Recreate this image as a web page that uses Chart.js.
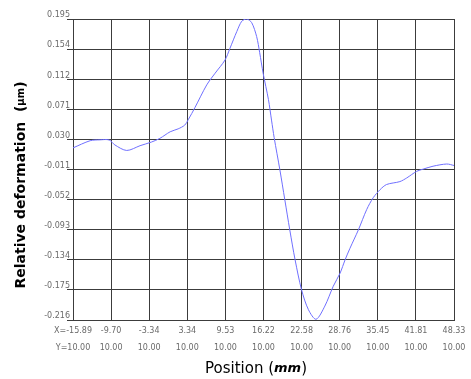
<!DOCTYPE html>
<html>
<head>
<meta charset="utf-8">
<script src="https://cdn.jsdelivr.net/npm/chart.js@4.4.0/dist/chart.umd.min.js"></script>
<style>
  html, body { margin: 0; padding: 0; background: #fff; }
  #wrap { width: 471px; height: 379px; }
</style>
</head>
<body>
<div id="wrap"><canvas id="c"></canvas></div>
<script>
// -- data --
// x tick labels (position in mm) and the Y row under them
const xTickLabels = ['-15.89', '-9.70', '-3.34', '3.34', '9.53', '16.22', '22.58', '28.76', '35.45', '41.81', '48.33']
const yRowLabels = ['10.00', '10.00', '10.00', '10.00', '10.00', '10.00', '10.00', '10.00', '10.00', '10.00', '10.00']
const yTickValues = [0.195, 0.154, 0.112, 0.071, 0.030, -0.011, -0.052, -0.093, -0.134, -0.175, -0.216]

// curve: position as grid column index (0 = first x label, 10 = last), deformation in µm
const gridPos = [0, 0.45, 0.71, 0.95, 1.10, 1.41, 1.76, 2.06, 2.28, 2.55, 2.76, 2.93, 3.03, 3.20, 3.51, 3.73, 3.99, 4.12, 4.30, 4.43, 4.56, 4.69, 4.82, 4.90, 4.99, 5.13, 5.21, 5.28, 5.43, 5.56, 5.69, 5.83, 6.00, 6.18, 6.38, 6.61, 6.83, 7.01, 7.14, 7.27, 7.49, 7.71, 7.88, 8.06, 8.23, 8.58, 8.76, 9.02, 9.19, 9.45, 9.81, 10]
const deformation = [0.019, 0.0288, 0.030, 0.0298, 0.023, 0.0155, 0.022, 0.027, 0.032, 0.041, 0.045, 0.050, 0.058, 0.074, 0.105, 0.121, 0.139, 0.155, 0.178, 0.192, 0.195, 0.190, 0.171, 0.149, 0.121, 0.085, 0.057, 0.033, -0.011, -0.052, -0.093, -0.134, -0.175, -0.202, -0.215, -0.197, -0.170, -0.152, -0.134, -0.118, -0.093, -0.065, -0.049, -0.038, -0.031, -0.027, -0.022, -0.013, -0.010, -0.006, -0.003, -0.005]

const points = gridPos.map((x, i) => ({x: x, y: deformation[i]}))

const gridColor = '#3c3c3c'
const tickColor = '#6a6a6a'

// axis titles with mixed fonts (the unit is italic / smaller)
const axisTitles = {
    id: 'axisTitles',
    afterDraw (chart) {
        const ctx = chart.ctx
        ctx.save()
        ctx.fillStyle = '#000'
        ctx.textBaseline = 'middle'

        // x title: "Position (mm)"
        const parts = [
            {t: 'Position (', f: '15px "DejaVu Sans"'},
            {t: 'mm', f: 'italic bold 13px "DejaVu Sans"'},
            {t: ')', f: '15px "DejaVu Sans"'}
        ]
        let total = 0
        for (let p of parts) { ctx.font = p.f; p.w = ctx.measureText(p.t).width; total += p.w }
        let x = 256 - total / 2
        for (let p of parts) { ctx.font = p.f; ctx.textAlign = 'left'; ctx.fillText(p.t, x, 369); x += p.w }

        // y title: "Relative deformation (µm)" rotated
        ctx.translate(21, 0)
        ctx.rotate(-Math.PI / 2)
        const yparts = [
            {t: 'Relative deformation  (', f: 'bold 14px "DejaVu Sans"'},
            {t: 'μm', f: 'bold 10px "DejaVu Sans"'},
            {t: ')', f: 'bold 14px "DejaVu Sans"'}
        ]
        total = 0
        for (let p of yparts) { ctx.font = p.f; p.w = ctx.measureText(p.t).width; total += p.w }
        let yy = -185 - total / 2
        for (let p of yparts) { ctx.font = p.f; ctx.fillText(p.t, yy, 0); yy += p.w }
        ctx.restore()
    }
}

new Chart(document.getElementById('c'), {
    type: 'scatter',
    data: {
        datasets: [{
            data: points,
            showLine: true,
            borderColor: '#6f6fff',
            borderWidth: 1,
            pointRadius: 0,
            tension: 0.3,
            fill: false
        }]
    },
    options: {
        responsive: true,
        maintainAspectRatio: false,
        animation: false,
        layout: {padding: {top: 19, right: 17, bottom: 0, left: 0}},
        plugins: {
            legend: {display: false},
            tooltip: {enabled: false}
        },
        scales: {
            x: {
                type: 'linear',
                min: 0,
                max: 10,
                afterBuildTicks: axis => { axis.ticks = xTickLabels.map((_, i) => ({value: i})) },
                afterFit: axis => { axis.height = 59 },
                grid: {color: gridColor, drawTicks: false},
                border: {color: gridColor},
                ticks: {
                    maxRotation: 0,
                    autoSkip: false,
                    padding: 2,
                    color: tickColor,
                    font: {family: 'DejaVu Sans', size: 8, lineHeight: 2.2},
                    callback: (v, i) => i === 0 ? ['X=' + xTickLabels[i], 'Y=' + yRowLabels[i]] : [xTickLabels[i], yRowLabels[i]]
                }
            },
            y: {
                min: -0.216,
                max: 0.195,
                afterBuildTicks: axis => { axis.ticks = yTickValues.map(v => ({value: v})) },
                afterFit: axis => { axis.width = 73 },
                grid: {color: gridColor, tickLength: 6},
                border: {color: gridColor},
                ticks: {
                    autoSkip: false,
                    padding: -3,
                    labelOffset: -4,
                    color: tickColor,
                    font: {family: 'DejaVu Sans', size: 8},
                    callback: (v, i) => yTickValues[i].toFixed(3)
                }
            }
        }
    },
    plugins: [axisTitles]
})
</script>
</body>
</html>
